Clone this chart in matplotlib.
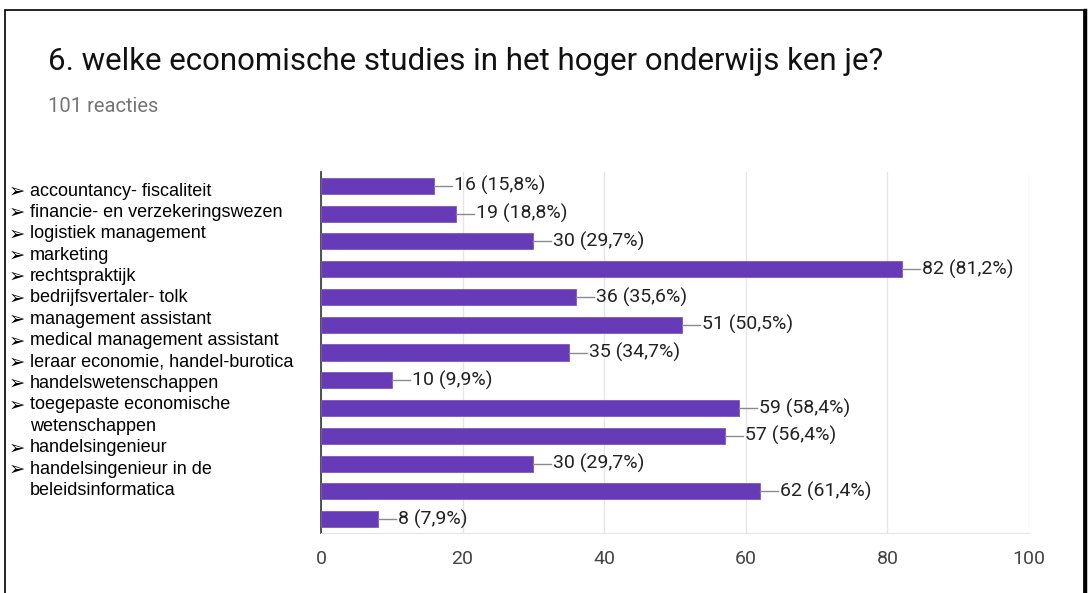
import matplotlib.pyplot as plt
from matplotlib.patches import Rectangle

# data
values = [16, 19, 30, 82, 36, 51, 35, 10, 59, 57, 30, 62, 8]
percents = ["15,8", "18,8", "29,7", "81,2", "35,6", "50,5", "34,7",
            "9,9", "58,4", "56,4", "29,7", "61,4", "7,9"]
label_lines = [
    "accountancy- fiscaliteit",
    "financie- en verzekeringswezen",
    "logistiek management",
    "marketing",
    "rechtspraktijk",
    "bedrijfsvertaler- tolk",
    "management assistant",
    "medical management assistant",
    "leraar economie, handel-burotica",
    "handelswetenschappen",
    "toegepaste economische\nwetenschappen",
    "handelsingenieur",
    "handelsingenieur in de\nbeleidsinformatica",
]
xticks = [0, 20, 40, 60, 80, 100]

W, H = 1089, 593
fig = plt.figure(figsize=(W / 100, H / 100), dpi=100)
fig.patch.set_facecolor("white")

# outer frame
fig.add_artist(Rectangle((5 / W, -0.05), 1079 / W, (H - 10) / H + 0.05,
                         transform=fig.transFigure, fill=False,
                         edgecolor="black", linewidth=1.2))
fig.add_artist(plt.Line2D([1085 / W, 1085 / W], [0, (H - 10) / H],
                          transform=fig.transFigure, color="black", linewidth=2.5))

fig.text(48 / W, 1 - 62 / H, "6. welke economische studies in het hoger onderwijs ken je?",
         family="Roboto", fontsize=22.5, color="#111111", va="center")
fig.text(48 / W, 1 - 107 / H, "101 reacties", family="Roboto", fontsize=14.5,
         color="#757575", va="center")

# pasted label block on the left
y = 191
for lab in label_lines:
    parts = lab.split("\n")
    for j, p in enumerate(parts):
        if j == 0:
            fig.text(9 / W, 1 - y / H, "\u27a2", family=["DejaVu Sans"], fontsize=14,
                     color="black", va="center")
        fig.text(30 / W, 1 - y / H, p, family=["Liberation Sans", "DejaVu Sans"],
                 fontsize=13, color="black", va="center")
        y += 21.4

ax = fig.add_axes([321 / W, 1 - 533 / H, 708 / W, (533 - 172) / H])
pos = list(range(len(values)))
ax.barh(pos, values, height=0.58, color="#673ab7", edgecolor="#7e57c2",
        linewidth=0.6, zorder=3)
off = 20 / 708 * 100
for i, v in enumerate(values):
    ax.plot([v, v + off * 0.9], [i, i], color="#8a8a8a", linewidth=1, zorder=3)
    ax.text(v + off, i, f"{v} ({percents[i]}%)", family="Roboto", fontsize=14,
            color="#222222", va="center", ha="left")

ax.set_xlim(0, 100)
ax.set_ylim(12.5, -0.5)
ax.set_xticks(xticks)
ax.set_xticklabels([str(t) for t in xticks], family="Roboto", fontsize=14, color="#444444")
ax.set_yticks([])
ax.tick_params(axis="x", length=0, pad=12)
ax.grid(axis="x", color="#e6e6e6", linewidth=1, zorder=0)
for s in ["top", "right"]:
    ax.spines[s].set_visible(False)
ax.spines["bottom"].set_color("#e6e6e6")
ax.spines["left"].set_color("#333333")
ax.spines["left"].set_linewidth(1.2)
ax.set_facecolor("white")

fig.savefig("out.png", dpi=100)
